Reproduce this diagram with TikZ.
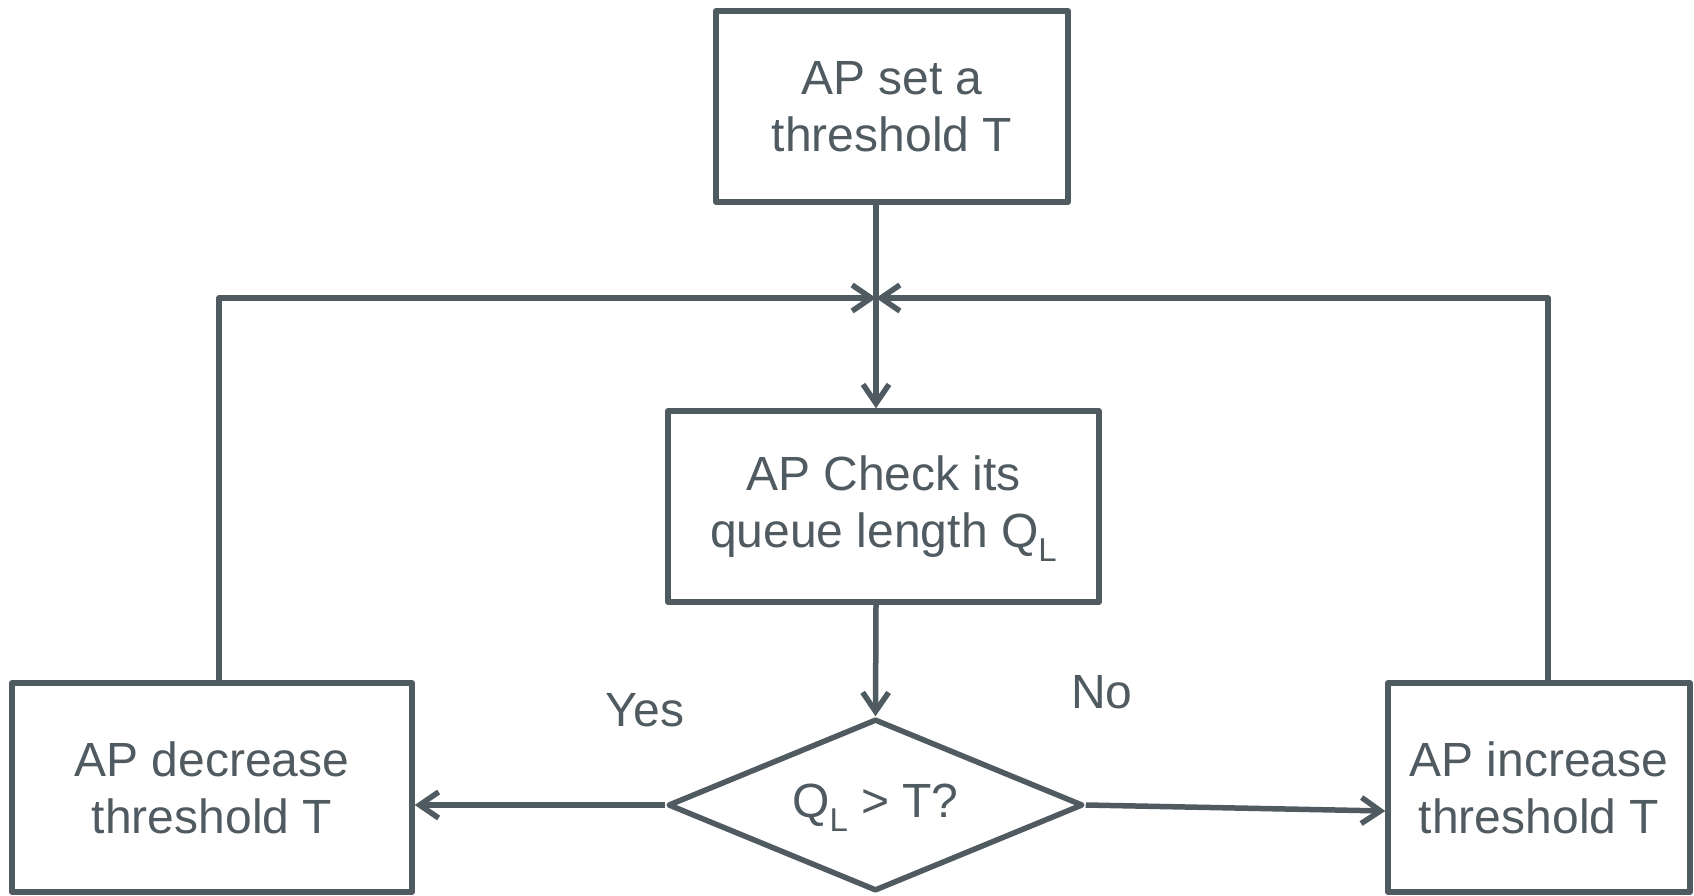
\documentclass[tikz,border=0pt]{standalone}
\usepackage{fontspec}
\setmainfont{Liberation Sans}
\usetikzlibrary{arrows.meta,shapes.geometric}
\definecolor{ink}{RGB}{80,90,97}
\newcommand{\sbL}{\smash{\raisebox{-0.3em}{\fontsize{33}{33}\selectfont L}}}
\tikzset{
  every node/.style={text=ink, font=\fontsize{48}{57}\selectfont},
  stepbox/.style={draw=ink, line width=5.5pt, rectangle, align=center, inner sep=0pt, line join=round},
  decide/.style={draw=ink, line width=5.5pt, diamond, aspect=2.41, inner sep=0pt, minimum width=415pt, minimum height=172pt, line join=round},
  link/.style={draw=ink, line width=5.5pt, line join=round},
  arr/.style={link, -{Straight Barb[length=19pt,width=26pt,line width=5.5pt]}},
  lbl/.style={inner sep=0pt},
}
\begin{document}
\begin{tikzpicture}[x=1pt,y=-1pt]
  \useasboundingbox (0,0) rectangle (1694,896);

  % process steps
  \node[stepbox, minimum width=352pt, minimum height=191pt] (set) at (892,106.5) {AP set a\\threshold T};
  \node[stepbox, minimum width=431pt, minimum height=191pt] (check) at (883.5,506.5) {AP Check its\\queue length Q\sbL};
  \node[decide] (cmp) at (875.5,805) {Q\sbL\ > T?};
  \node[stepbox, minimum width=400pt, minimum height=209pt] (dec) at (212,787.5) {AP decrease\\threshold T};
  \node[stepbox, minimum width=302pt, minimum height=209pt] (inc) at (1539,787.5) {AP increase\\threshold T};

  % branch labels
  \node[lbl] (yes) at (645,710) {Yes};
  \node[lbl] (no) at (1102,692) {No};

  % junction where the feedback loops rejoin the main flow
  \coordinate (j) at (876,298);

  \draw[arr] (set.south -| j) -- (check.north -| j);
  \draw[arr] (check.south -| j) -- (cmp.north);
  \draw[arr] ([xshift=7pt]dec.north) |- (j);
  \draw[arr] ([xshift=9pt]inc.north) |- (j);
  \draw[arr] (cmp.west) -- (cmp.west -| dec.east);
  \draw[arr] (cmp.east) -- ([yshift=-23.5pt]inc.west);
\end{tikzpicture}
\end{document}
